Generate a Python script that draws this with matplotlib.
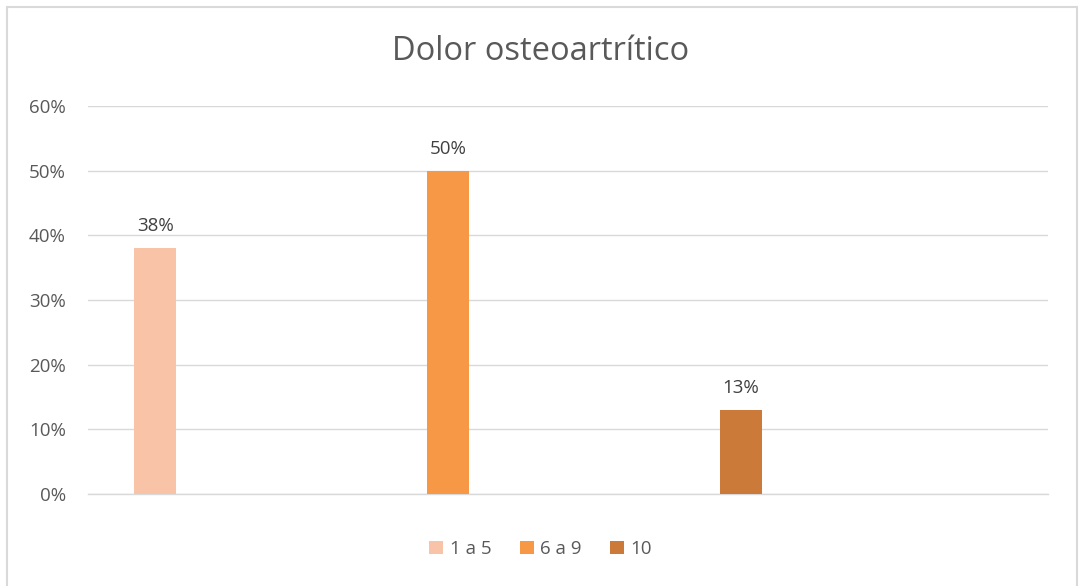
import matplotlib.pyplot as plt
from matplotlib.patches import Rectangle
from matplotlib.ticker import FuncFormatter

# datos
series = ['1 a 5', '6 a 9', '10']
valores = [0.38, 0.50, 0.13]
etiquetas = ['38%', '50%', '13%']
colores = ['#F9C3A8', '#F79846', '#CB7A39']
yticks = [0, 0.1, 0.2, 0.3, 0.4, 0.5, 0.6]

plt.rcParams['font.family'] = ['Open Sans', 'DejaVu Sans']
gris = '#595959'
linea = '#D9D9D9'

fig = plt.figure(figsize=(10.81, 5.86), dpi=100)
# marco del grafico
fig.patches.append(Rectangle((7/1081, -0.01), 1070/1081, 1 - 7/586 + 0.01,
                             transform=fig.transFigure, fill=False,
                             edgecolor=linea, linewidth=1.5))

ax = fig.add_axes([88/1081, (586-494)/586, 960/1081, 388/586])

x = list(range(len(series)))
for i in x:
    ax.bar(i, valores[i], width=0.143, color=colores[i], label=series[i], zorder=3)
    ax.text(i, valores[i] + 0.02, etiquetas[i], ha='center', va='bottom',
            fontsize=13.5, color='#404040')

ax.set_xlim(-0.229, 3.048)
ax.set_ylim(0, 0.6)
ax.set_yticks(yticks)
ax.yaxis.set_major_formatter(FuncFormatter(lambda v, p: f'{v*100:.0f}%'))
ax.tick_params(axis='y', length=0, labelsize=13.5, labelcolor=gris, pad=16)
ax.set_xticks([])
ax.grid(axis='y', color=linea, linewidth=1, zorder=0)
for s in ['top', 'right', 'left']:
    ax.spines[s].set_visible(False)
ax.spines['bottom'].set_color(linea)
ax.spines['bottom'].set_linewidth(1)

fig.text(0.5, 1 - 52/586, 'Dolor osteoartrítico', ha='center', va='center',
         fontsize=23.5, color=gris)

fig.legend(loc='center', bbox_to_anchor=(0.5, 1 - 549/586), ncol=3, frameon=False,
           fontsize=13.5, labelcolor=gris, handlelength=0.75, handleheight=0.75,
           handletextpad=0.35, columnspacing=1.5)

fig.savefig('out.png', dpi=100)
